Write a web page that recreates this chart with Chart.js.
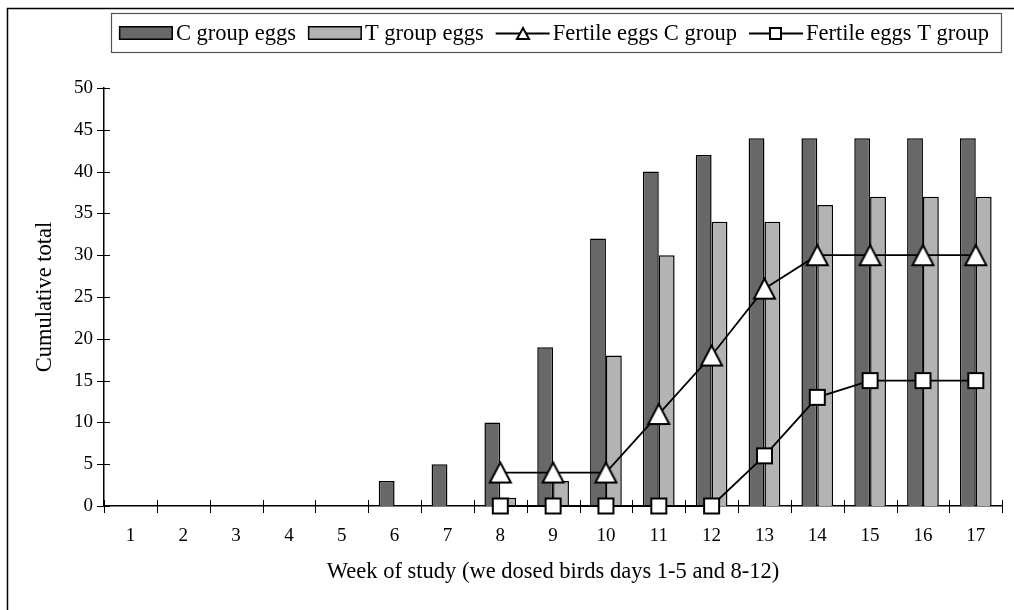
<!DOCTYPE html>
<html>
<head>
<meta charset="utf-8">
<script src="https://cdn.jsdelivr.net/npm/chart.js@4.4.0/dist/chart.umd.min.js"></script>
<style>
  body { margin: 0; background: #fff; }
  canvas { display: block; }
</style>
</head>
<body>
<canvas id="eggChart" width="1014" height="610"></canvas>
<script>
let weeks = ['1', '2', '3', '4', '5', '6', '7', '8', '9', '10', '11', '12', '13', '14', '15', '16', '17'];
let cGroupEggs = [null, null, null, null, null, 3, 5, 10, 19, 32, 40, 42, 44, 44, 44, 44, 44];
let tGroupEggs = [null, null, null, null, null, null, null, 1, 3, 18, 30, 34, 34, 36, 37, 37, 37];
let fertileC = [null, null, null, null, null, null, null, 4, 4, 4, 11, 18, 26, 30, 30, 30, 30];
let fertileT = [null, null, null, null, null, null, null, 0, 0, 0, 0, 0, 6, 13, 15, 15, 15];

let serif = "'Liberation Serif', 'Times New Roman', serif";

// white markers with black outline, drawn on a small canvas so they sit centred on the value
function marker(shape, size) {
  let c = document.createElement('canvas');
  let h = shape === 'triangle' ? Math.round(size * 0.95) : size;
  c.width = size + 4;
  c.height = h + 4;
  let g = c.getContext('2d');
  g.fillStyle = '#fff';
  g.strokeStyle = '#000';
  g.lineWidth = 2;
  g.lineJoin = 'miter';
  g.beginPath();
  if (shape === 'triangle') {
    g.moveTo(2 + size / 2, 2);
    g.lineTo(2 + size, 2 + h);
    g.lineTo(2, 2 + h);
  } else {
    g.rect(2, 2, size, size);
  }
  g.closePath();
  g.fill();
  g.stroke();
  return c;
}

let background = {
  id: 'background',
  beforeDraw(chart) {
    let ctx = chart.ctx;
    ctx.save();
    ctx.fillStyle = '#fff';
    ctx.fillRect(0, 0, chart.width, chart.height);
    ctx.strokeStyle = '#000';
    ctx.lineWidth = 1.5;
    ctx.beginPath();
    ctx.moveTo(7.5, chart.height);
    ctx.lineTo(7.5, 8.5);
    ctx.lineTo(chart.width, 8.5);
    ctx.stroke();
    ctx.restore();
  }
};

// tick marks that cross the axis lines
let crossTicks = {
  id: 'crossTicks',
  beforeDatasetsDraw(chart) {
    let ctx = chart.ctx;
    let x = chart.scales.x, y = chart.scales.y;
    ctx.save();
    ctx.strokeStyle = '#000';
    ctx.lineWidth = 1;
    ctx.beginPath();
    y.ticks.forEach(t => {
      let py = Math.round(y.getPixelForValue(t.value)) + 0.5;
      ctx.moveTo(y.right - 7, py);
      ctx.lineTo(y.right + 6, py);
    });
    let n = weeks.length;
    for (let i = 0; i <= n; i++) {
      let px = Math.round(x.left + i * (x.right - x.left) / n) + 0.5;
      ctx.moveTo(px, x.top - 6);
      ctx.lineTo(px, x.top + 7);
    }
    ctx.stroke();
    ctx.restore();
  }
};

let boxedLegend = {
  id: 'boxedLegend',
  afterDraw(chart) {
    let ctx = chart.ctx;
    ctx.save();
    ctx.font = '22.5px ' + serif;
    let sym = 54, gapIn = 3, gapOut = 12;
    let items = chart.data.datasets.map(ds => ({ ds: ds, w: ctx.measureText(ds.label).width }));
    let total = items.reduce((a, it) => a + sym + gapIn + it.w, 0) + gapOut * (items.length - 1);
    let boxL = 111, boxR = 1001, boxT = 13, boxB = 52, cy = 33;

    ctx.strokeStyle = '#555';
    ctx.lineWidth = 1.2;
    ctx.strokeRect(boxL + 0.5, boxT + 0.5, boxR - boxL, boxB - boxT);

    let x = 554 - total / 2;
    items.forEach(it => {
      let ds = it.ds;
      if (ds.type === 'line') {
        ctx.strokeStyle = '#000';
        ctx.lineWidth = 1.8;
        ctx.beginPath();
        ctx.moveTo(x, cy + 0.5);
        ctx.lineTo(x + sym, cy + 0.5);
        ctx.stroke();
        let m = ds.legendMarker;
        ctx.drawImage(m, Math.round(x + sym / 2 - m.width / 2), Math.round(cy - m.height / 2 + 0.5));
      } else {
        ctx.fillStyle = ds.backgroundColor;
        ctx.fillRect(x, cy - 7, sym, 14);
        ctx.strokeStyle = '#000';
        ctx.lineWidth = 1.5;
        ctx.strokeRect(x + 0.75, cy - 6.25, sym - 1.5, 12.5);
      }
      ctx.fillStyle = '#000';
      ctx.textBaseline = 'middle';
      ctx.textAlign = 'left';
      ctx.fillText(ds.label, x + sym + gapIn, cy + 1);
      x += sym + gapIn + it.w + gapOut;
    });
    ctx.restore();
  }
};

let eggChart = new Chart(document.getElementById('eggChart').getContext('2d'), {
  type: 'bar',
  data: {
    labels: weeks,
    datasets: [
      {
        label: 'C group eggs',
        data: cGroupEggs,
        backgroundColor: '#686868',
        borderColor: '#000',
        borderWidth: 1.5,
        categoryPercentage: 0.6,
        barPercentage: 1.0,
        order: 1
      },
      {
        label: 'T group eggs',
        data: tGroupEggs,
        backgroundColor: '#b3b3b3',
        borderColor: '#000',
        borderWidth: 1.5,
        categoryPercentage: 0.6,
        barPercentage: 1.0,
        order: 1
      },
      {
        type: 'line',
        label: 'Fertile eggs C group',
        data: fertileC,
        borderColor: '#000',
        borderWidth: 1.8,
        pointStyle: marker('triangle', 21),
        pointRadius: 10,
        legendMarker: marker('triangle', 12),
        clip: false,
        order: 0
      },
      {
        type: 'line',
        label: 'Fertile eggs T group',
        data: fertileT,
        borderColor: '#000',
        borderWidth: 1.8,
        pointStyle: marker('square', 15),
        pointRadius: 10,
        legendMarker: marker('square', 11),
        clip: false,
        order: 0
      }
    ]
  },
  options: {
    responsive: false,
    animation: false,
    events: [],
    layout: { padding: { left: 0, right: 2, top: 88, bottom: 0 } },
    plugins: {
      legend: { display: false },
      tooltip: { enabled: false }
    },
    scales: {
      x: {
        grid: { display: false },
        border: { color: '#000', width: 1.5 },
        ticks: { color: '#000', font: { family: serif, size: 19 }, padding: 11 },
        title: {
          display: true,
          text: 'Week of study (we dosed birds days 1-5 and 8-12)',
          color: '#000',
          font: { family: serif, size: 22.5 },
          padding: { top: 0, bottom: 24.5 }
        },
        afterFit(axis) { axis.height = 104; }
      },
      y: {
        min: 0,
        max: 50,
        grid: { display: false },
        border: { color: '#000', width: 1.5 },
        ticks: { stepSize: 5, color: '#000', font: { family: serif, size: 19 }, padding: 3 },
        title: {
          display: true,
          text: 'Cumulative total',
          color: '#000',
          font: { family: serif, size: 22.5 },
          padding: { top: 31.5, bottom: 0 }
        },
        afterFit(axis) { axis.width = 104; }
      }
    }
  },
  plugins: [background, crossTicks, boxedLegend]
});
</script>
</body>
</html>
